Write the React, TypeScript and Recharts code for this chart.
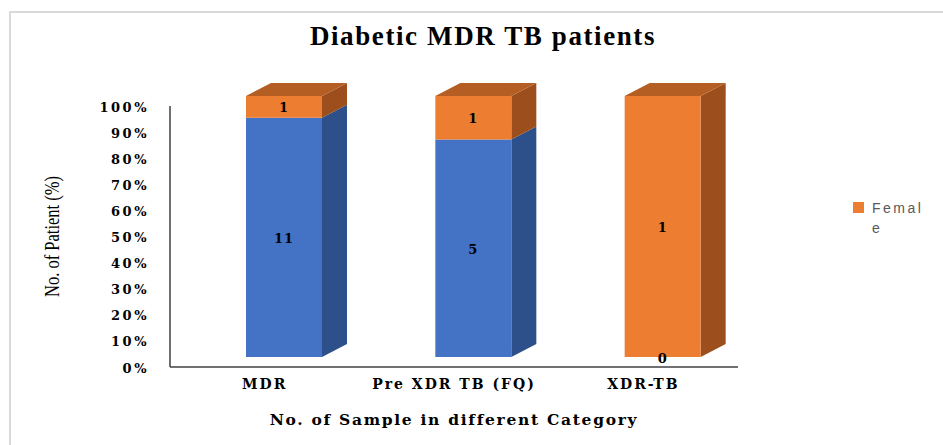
import { BarChart, Bar, XAxis, YAxis, LabelList } from 'recharts';

const categories = ['MDR', 'Pre XDR TB (FQ)', 'XDR-TB'];
const maleCounts = [11, 5, 0];
const femaleCounts = [1, 1, 1];
const yTicks = [0, 0.1, 0.2, 0.3, 0.4, 0.5, 0.6, 0.7, 0.8, 0.9, 1];

const data = categories.map((category, i) => ({
  category,
  male: maleCounts[i],
  female: femaleCounts[i],
}));

// front face sits a bit right/up of the floor, plus a fake 3d depth
const SHIFT_X = 19;
const SHIFT_Y = -10;
const DEPTH_X = 25;
const DEPTH_Y = -13;

const FONT = '"DejaVu Serif", "Liberation Serif", serif';

function Bar3D(props: any) {
  const { x, y, width, height, front, side, top, withTop } = props;
  const w = Number(width);
  const h = Number(height);
  if (!(h > 0)) return <g />;
  const fx = Number(x) + SHIFT_X;
  const fy = Number(y) + SHIFT_Y;
  const sidePts = `${fx + w},${fy} ${fx + w + DEPTH_X},${fy + DEPTH_Y} ${fx + w + DEPTH_X},${fy + h + DEPTH_Y} ${fx + w},${fy + h}`;
  const topPts = `${fx},${fy} ${fx + DEPTH_X},${fy + DEPTH_Y} ${fx + w + DEPTH_X},${fy + DEPTH_Y} ${fx + w},${fy}`;
  return (
    <g>
      <polygon points={sidePts} fill={side} />
      {withTop && <polygon points={topPts} fill={top} />}
      <rect x={fx} y={fy} width={w} height={h} fill={front} />
    </g>
  );
}

function BarLabel(props: any) {
  const { x, y, width, height, value } = props;
  return (
    <text
      x={Number(x) + Number(width) / 2 + SHIFT_X}
      y={Number(y) + Number(height) / 2 + SHIFT_Y + 1}
      textAnchor="middle"
      dominantBaseline="central"
      fontFamily={FONT}
      fontWeight="bold"
      fontSize={13}
      letterSpacing={1}
      fill="#000"
    >
      {value}
    </text>
  );
}

function YTick(props: any) {
  const { x, y, payload } = props;
  return (
    <text x={x} y={y + 1} textAnchor="end" dominantBaseline="central" fontFamily={FONT} fontWeight="bold" fontSize={13} letterSpacing={2.5} fill="#000">
      {`${Math.round(payload.value * 100)}%`}
    </text>
  );
}

function XTick(props: any) {
  const { x, y, payload } = props;
  return (
    <text x={x} y={y + 9} textAnchor="middle" dominantBaseline="central" fontFamily={FONT} fontWeight="bold" fontSize={14} letterSpacing={2} fill="#000">
      {payload.value}
    </text>
  );
}

export default function App() {
  return (
    <div style={{ position: 'absolute', left: 0, top: 0, width: 943, height: 445, background: '#fff' }}>
      <div
        style={{
          position: 'absolute',
          left: 9,
          top: 11,
          right: 0,
          bottom: 0,
          borderTop: '2px solid #d9d9d9',
          borderLeft: '2px solid #d9d9d9',
        }}
      />
      <div
        style={{
          position: 'absolute',
          left: 0,
          top: 21,
          width: 966,
          textAlign: 'center',
          fontFamily: '"Liberation Serif", serif',
          fontWeight: 'bold',
          fontSize: 27,
          letterSpacing: 1.6,
        }}
      >
        Diabetic MDR TB patients
      </div>
      <BarChart
        width={943}
        height={445}
        data={data}
        stackOffset="expand"
        margin={{ top: 106, right: 205, bottom: 48, left: 0 }}
        barSize={76}
      >
        <XAxis
          dataKey="category"
          interval={0}
          height={30}
          tickLine={false}
          axisLine={{ stroke: '#404040', strokeWidth: 1.5 }}
          tick={<XTick />}
          label={{
            value: 'No. of Sample in different Category',
            position: 'bottom',
            offset: 17,
            style: { fontFamily: FONT, fontWeight: 'bold', fontSize: 15.5, letterSpacing: 1.7, fill: '#000' },
          }}
        />
        <YAxis
          type="number"
          domain={[0, 1]}
          ticks={yTicks}
          width={170}
          tickLine={false}
          tickSize={0}
          tickMargin={21}
          axisLine={{ stroke: '#404040', strokeWidth: 1.5 }}
          tick={<YTick />}
          label={{
            content: (p: any) => {
              const vb = p.viewBox || {};
              const cx = Number(vb.x || 0) + 52;
              const cy = Number(vb.y) + Number(vb.height) / 2;
              return (
                <text
                  x={cx}
                  y={cy}
                  transform={`rotate(-90 ${cx} ${cy})`}
                  textAnchor="middle"
                  dominantBaseline="central"
                  fontFamily='"Liberation Serif", serif'
                  fontSize={21}
                  textLength={121}
                  lengthAdjust="spacingAndGlyphs"
                  fill="#000"
                >
                  No. of Patient (%)
                </text>
              );
            },
          }}
        />
        <Bar
          dataKey="male"
          stackId="a"
          legendType="none"
          isAnimationActive={false}
          shape={(p: any) => <Bar3D {...p} front="#4472C4" side="#2D4F8A" top="#3A64AF" withTop={false} />}
        >
          <LabelList dataKey="male" content={<BarLabel />} />
        </Bar>
        <Bar
          dataKey="female"
          stackId="a"
          isAnimationActive={false}
          shape={(p: any) => <Bar3D {...p} front="#ED7D31" side="#9C4F1D" top="#B55E23" withTop />}
        >
          <LabelList dataKey="female" content={<BarLabel />} />
        </Bar>
      </BarChart>
      <div
        style={{
          position: 'absolute',
          left: 853,
          top: 198,
          display: 'flex',
          alignItems: 'flex-start',
          fontFamily: '"Liberation Sans", sans-serif',
          fontSize: 14,
          color: '#595959',
          letterSpacing: 2.5,
          lineHeight: '20px',
        }}
      >
        <span style={{ width: 11, height: 11, background: '#ED7D31', marginTop: 4, marginRight: 8 }} />
        <span style={{ width: 60, wordBreak: 'break-all' }}>Female</span>
      </div>
    </div>
  );
}
